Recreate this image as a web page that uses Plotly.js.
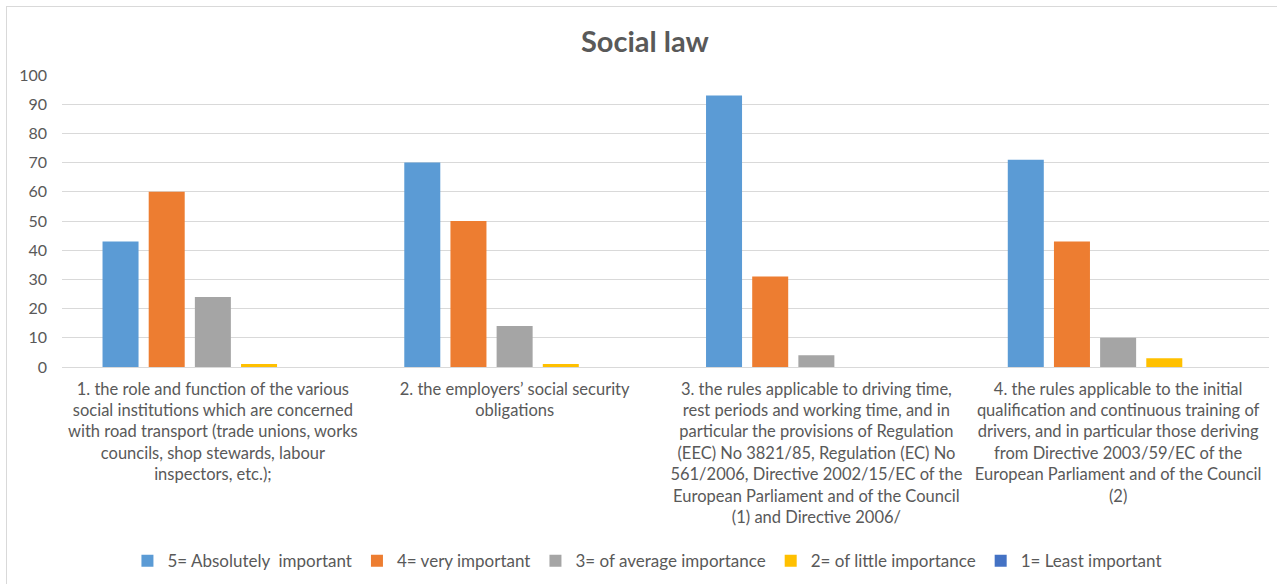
<!DOCTYPE html>
<html>
<head>
<meta charset="utf-8">
<script src="https://cdn.plot.ly/plotly-3.0.1.min.js"></script>
<style>
  html, body { margin: 0; padding: 0; background: #ffffff; }
  #wrap { position: relative; width: 1277px; height: 584px; overflow: hidden; }
  #frame { position: absolute; left: 6px; top: 6px; width: 1290px; height: 600px;
           border: 1px solid #d9d9d9; box-sizing: border-box; pointer-events: none; }
  #chart { position: absolute; left: 0; top: 0; width: 1277px; height: 584px; }
</style>
</head>
<body>
<div id="wrap">
  <div id="chart"></div>
  <div id="frame"></div>
</div>
<script>
// Topic categories (wrapped onto several lines)
const categories = [
  "1. the role and function of the various<br>social institutions which are concerned<br>with road transport (trade unions, works<br>councils, shop stewards, labour<br>inspectors, etc.);",
  "2. the employers’ social security<br>obligations",
  "3. the rules applicable to driving time,<br>rest periods and working time, and in<br>particular the provisions of Regulation<br>(EEC) No 3821/85, Regulation (EC) No<br>561/2006, Directive 2002/15/EC of the<br>European Parliament and of the Council<br>(1) and Directive 2006/",
  "4. the rules applicable to the initial<br>qualification and continuous training of<br>drivers, and in particular those deriving<br>from Directive 2003/59/EC of the<br>European Parliament and of the Council<br>(2)"
];

// Rating levels
const seriesNames = [
  "5= Absolutely  important",
  "4= very important",
  "3= of average importance",
  "2= of little importance",
  "1= Least important"
];

// Responses per rating level, one value per category
const absolutelyImportant = [43, 70, 93, 71];
const veryImportant       = [60, 50, 31, 43];
const averageImportance   = [24, 14, 4, 10];
const littleImportance    = [1, 1, 0, 3];
const leastImportant      = [0, 0, 0, 0];

const yTicks = [0, 10, 20, 30, 40, 50, 60, 70, 80, 90, 100];

const seriesValues = [absolutelyImportant, veryImportant, averageImportance, littleImportance, leastImportant];
const seriesColors = ["#5B9BD5", "#ED7D31", "#A5A5A5", "#FFC000", "#4472C4"];

const textColor = "#595959";
const fontFamily = "Lato, 'Open Sans', sans-serif";

const traces = seriesValues.map((vals, i) => ({
  type: "bar",
  name: seriesNames[i],
  x: categories,
  y: vals,
  marker: { color: seriesColors[i] },
  hoverinfo: "x+y+name"
}));

const layout = {
  width: 1277,
  height: 584,
  margin: { l: 62, r: 8, t: 75, b: 217 },
  paper_bgcolor: "rgba(0,0,0,0)",
  plot_bgcolor: "#ffffff",
  font: { family: fontFamily, color: textColor, size: 16 },
  title: {
    text: "<b>Social law</b>",
    font: { family: fontFamily, size: 29, color: textColor },
    x: 0.505, xanchor: "center",
    y: 0.928, yanchor: "middle"
  },
  barmode: "group",
  bargap: 0.235,
  bargroupgap: 0.22,
  xaxis: {
    type: "category",
    tickfont: { family: fontFamily, size: 16.5, color: textColor },
    tickangle: 0,
    ticks: "",
    ticklabelstandoff: 10,
    showgrid: false,
    showline: false,
    zeroline: false,
    automargin: false
  },
  yaxis: {
    range: [0, 100],
    tickvals: yTicks,
    ticktext: yTicks.map(String),
    tickfont: { family: fontFamily, size: 16, color: textColor },
    ticks: "",
    ticklabelstandoff: 14,
    showgrid: true,
    gridcolor: "#d9d9d9",
    gridwidth: 1,
    zeroline: true,
    zerolinecolor: "#d9d9d9",
    zerolinewidth: 1,
    showline: false,
    automargin: false,
    fixedrange: true
  },
  showlegend: true,
  legend: {
    orientation: "h",
    xref: "container", yref: "container",
    x: 0.507, xanchor: "center",
    y: 0.039, yanchor: "middle",
    font: { family: fontFamily, size: 17, color: textColor },
    itemwidth: 30,
    tracegroupgap: 0,
    traceorder: "normal"
  }
};

Plotly.newPlot("chart", traces, layout, { displayModeBar: false, staticPlot: true });
</script>
</body>
</html>
